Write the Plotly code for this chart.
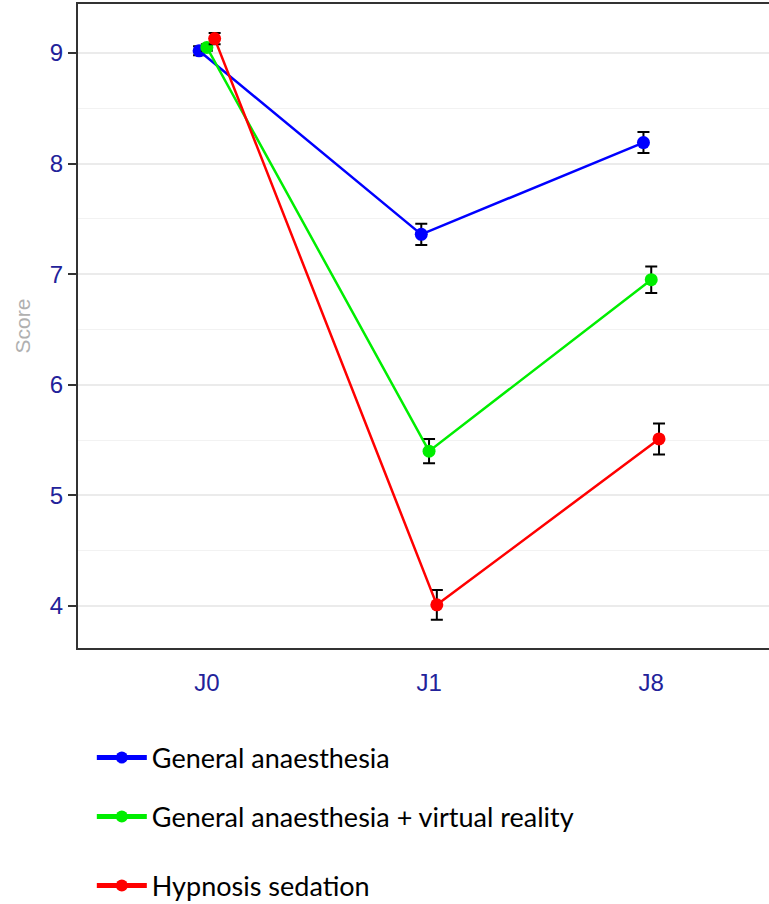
import plotly.graph_objects as go

timepoints = ["J0", "J1", "J8"]
series_names = ["General anaesthesia", "General anaesthesia + virtual reality", "Hypnosis sedation"]
ga_mean = [9.02, 7.36, 8.19]
ga_err = [0.04, 0.095, 0.095]
gavr_mean = [9.05, 5.40, 6.95]
gavr_err = [0.03, 0.11, 0.12]
hyp_mean = [9.13, 4.01, 5.51]
hyp_err = [0.05, 0.135, 0.14]
colors = ["#0000FF", "#00EE00", "#FF0000"]
dodge = [-0.035, 0.0, 0.035]

fig = go.Figure()
means = [ga_mean, gavr_mean, hyp_mean]
errs = [ga_err, gavr_err, hyp_err]
legends = ["legend", "legend2", "legend3"]
for i in range(3):
    xs = [k + dodge[i] for k in range(len(timepoints))]
    fig.add_trace(go.Scatter(
        x=xs, y=means[i], mode="lines+markers", name=series_names[i],
        line=dict(color=colors[i], width=2.5),
        marker=dict(color=colors[i], size=13),
        error_y=dict(type="data", array=errs[i], color="black", thickness=2, width=6),
        legend=legends[i],
    ))

leg_font = dict(family="Lato, Open Sans, sans-serif", size=27, color="black")
leg_common = dict(font=leg_font, bgcolor="rgba(0,0,0,0)", xanchor="left", yanchor="middle",
                  itemsizing="constant", itemwidth=50)
fig.update_layout(
    width=769, height=904,
    margin=dict(l=78, r=0, t=4, b=256, autoexpand=False),
    paper_bgcolor="white", plot_bgcolor="white",
    showlegend=True,
    legend=dict(x=0.02, y=-0.1708, **leg_common),
    legend2=dict(x=0.02, y=-0.2624, **leg_common),
    legend3=dict(x=0.02, y=-0.3696, **leg_common),
    xaxis=dict(
        range=[-0.58, 2.53], tickmode="array", tickvals=[0, 1, 2], ticktext=timepoints,
        showgrid=False, zeroline=False, showline=True, linecolor="#333333", linewidth=2,
        mirror=True, ticks="", ticklabelstandoff=12,
        tickfont=dict(family="Liberation Sans, Arial", size=24, color="#22229a"),
    ),
    yaxis=dict(
        range=[3.62, 9.443], tickvals=[4, 5, 6, 7, 8, 9],
        showgrid=True, gridcolor="#EBEBEB", gridwidth=2,
        minor=dict(dtick=0.5, tick0=3.5, showgrid=True, gridcolor="#F2F2F2", gridwidth=1.2),
        zeroline=False, showline=True, linecolor="#333333", linewidth=2,
        ticks="outside", ticklen=8, tickwidth=2, tickcolor="#333333",
        tickfont=dict(family="Liberation Sans, Arial", size=24, color="#22229a"),
        title=dict(text="Score", font=dict(family="Liberation Sans, Arial", size=21, color="#B0B0B0"), standoff=13),
    ),
)
fig.write_html("out.html", config={"displayModeBar": False},
               post_script="document.body.style.margin='0px';")
